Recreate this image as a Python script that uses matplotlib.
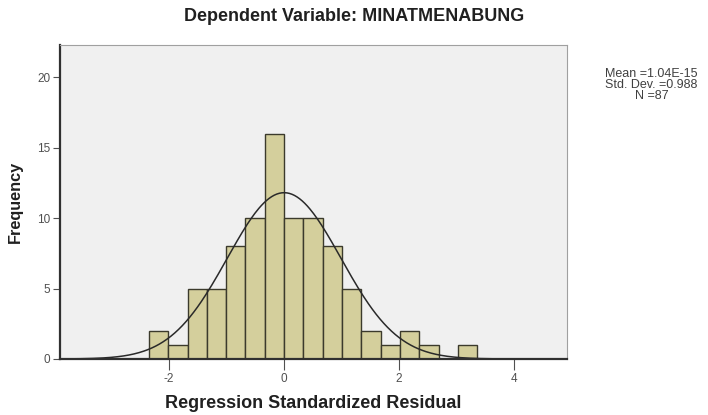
import numpy as np
import matplotlib
matplotlib.use("Agg")
import matplotlib.pyplot as plt

plt.rcParams["font.family"] = ["Liberation Sans", "DejaVu Sans"]

# histogram of regression standardized residuals
bin_start = -2.352
bin_width = 0.336
counts = [2, 1, 5, 5, 8, 10, 16, 10, 10, 8, 5, 2, 1, 2, 1, 0, 1]
mean = 1.04e-15
std_dev = 0.988
n_obs = 87

x_ticks = [-2, 0, 2, 4]
y_ticks = [0, 5, 10, 15, 20]

edges = bin_start + bin_width * np.arange(len(counts) + 1)

fig = plt.figure(figsize=(7.08, 4.15), dpi=100)
ax = fig.add_axes([0.0847, 0.135, 0.716, 0.757])
ax.set_facecolor("#f0f0f0")

ax.bar(edges[:-1], counts, width=bin_width, align="edge",
       color="#d4cf9c", edgecolor="#3b3a2c", linewidth=1.0, zorder=2)

# normal curve scaled to the histogram
xs = np.linspace(-3.9, 4.95, 400)
ys = n_obs * bin_width / (std_dev * np.sqrt(2 * np.pi)) * np.exp(-0.5 * ((xs - mean) / std_dev) ** 2)
ax.plot(xs, ys, color="#2a2a2a", linewidth=1.1, zorder=3)

ax.set_xlim(-3.9, 4.92)
ax.set_ylim(0, 22.3)
ax.set_xticks(x_ticks)
ax.set_xticklabels([str(t) for t in x_ticks])
ax.set_yticks(y_ticks)

for side in ["top", "right"]:
    ax.spines[side].set_color("#a0a0a0")
    ax.spines[side].set_linewidth(0.8)
for side in ["left", "bottom"]:
    ax.spines[side].set_color("#303030")
    ax.spines[side].set_linewidth(1.6)
ax.spines["bottom"].set_zorder(4)

ax.tick_params(axis="both", labelsize=8.5, colors="#505050", width=0.8)
ax.tick_params(axis="y", length=5, pad=2)
ax.tick_params(axis="x", direction="out", length=8, pad=2)

ax.set_xlabel("Regression Standardized Residual", fontsize=13, fontweight="bold",
              color="#202020", labelpad=7)
ax.set_ylabel("Frequency", fontsize=11.7, fontweight="bold", color="#202020")
ax.yaxis.set_label_coords(-0.073, 0.5)

fig.text(0.5, 0.96, "Dependent Variable: MINATMENABUNG", ha="center", va="center",
         fontsize=13, fontweight="bold", color="#202020")

stats = f"Mean ={mean:.2E}\nStd. Dev. ={std_dev}\nN ={n_obs}"
fig.text(0.92, 0.796, stats, ha="center", va="center", fontsize=9,
         color="#404040", linespacing=0.9)

fig.savefig("out.png", dpi=100)
